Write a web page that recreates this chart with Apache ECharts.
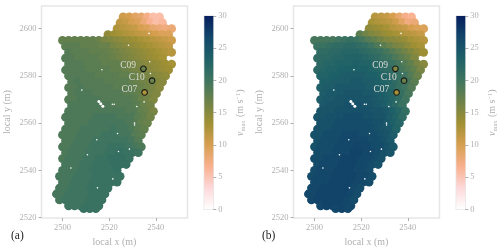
<!DOCTYPE html>
<html><head><meta charset="utf-8">
<style>html,body{margin:0;padding:0;background:#fff}#c{width:500px;height:252px;filter:blur(.4px)}</style>
<script src="https://cdn.jsdelivr.net/npm/echarts@6/dist/echarts.min.js"></script>
</head><body><div id="c"></div>
<script>
const rowY=[2605,2602.5,2600,2597.5,2595,2592.5,2590,2587.5,2585,2582.5,2580,2577.5,2575,2572.5,2570,2567.5,2565,2562.5,2560,2557.5,2555,2552.5,2550,2547.5,2545,2542.5,2540,2537.5,2535,2532.5,2530,2527.5,2525,2523.8];
const rowStartX=[2526,2524.7,2523.4,2519.5,2500,2501.3,2502.6,2501.3,2502.6,2501.3,2502.6,2503.9,2502.6,2503.9,2502.6,2503.9,2502.6,2501.3,2502.6,2501.3,2500,2501.3,2500,2501.3,2500,2501.3,2500,2498.7,2500,2498.7,2497.4,2498.7,2502.6,2509.1];
const pointStepX=2.6;
const valuesA=[
[10.5,10,9,8.5,7,5.5,5.5],
[11.5,11,10,9.5,8,6.5,5.5,6],
[12.5,12,11.5,11,10,9.5,8.5,8,7.5,8],
[14.5,13.5,13,12.5,12,11.5,11,10.5,10,9.5,9.5],
[17.5,17.5,17.5,17.5,17.5,17.5,17,16,15.5,15,14.5,14,13.5,13,12.5,12,11.5,11,10.5],
[18,18,18,17.5,17.5,17.5,17,17,16,15.5,15,14.5,14,13.5,13,12.5,12,11.5],
[18.5,18,18,18,17.5,17.5,17.5,17,16.5,16,15.5,15,14.5,14,13.5,13,12.5,12],
[18.5,18.5,18,18,18,18,17.5,17.5,17,16.5,16,15.5,15,14.5,14,13.5,13],
[18.5,18.5,18.5,18,18,18,17.5,17.5,17.5,17,16.5,16,15.5,15,14.5,14,13.5,13],
[18.5,18.5,18.5,18.5,18,18,18,18,17.5,17.5,17,16.5,16,15.5,15,14.5,14,13.5],
[18.5,18.5,18.5,18.5,18.5,18,18,18,18,17.5,17.5,17,16.5,16,15.5,15,14.5],
[18.5,19,18.5,18.5,18.5,18.5,18,18,18,18,17.5,17,16.5,16,15.5,15],
[18.5,18.5,19,18.5,18.5,18.5,18.5,18.5,18,18,18,17.5,17,16.5,16,15],
[18.5,19,19,19,18.5,18.5,18.5,18.5,18.5,18,18,17.5,16.5,16,15.5],
[18.5,18.5,19,19,19,19,18.5,18.5,18.5,18.5,18.5,18,17,16.5,15.5],
[19,19,19,19,19,19,19,18.5,18.5,18.5,18.5,18,17,16.5],
[19,19,19,19,19,19,19,19,19,19,18.5,18.5,17.5,17,16],
[19,19,19,19,19,19.5,19.5,19.5,19.5,19,19,19,18,17.5,16.5],
[19,19,19,19,19.5,19.5,19.5,19.5,19.5,19.5,19,18.5,17.5,17],
[19,19,19,19.5,19.5,19.5,19.5,19.5,20,19.5,19.5,19,18,17.5],
[19,19,19,19.5,19.5,19.5,19.5,20,20,20,19.5,19.5,18.5,18],
[19,19,19.5,19.5,19.5,20,20,20,20,20,20,19.5,18.5],
[19,19,19.5,19.5,19.5,20,20,20,20.5,20.5,20.5,20,19.5,19],
[19,19.5,19.5,19.5,20,20,20,20.5,20.5,21,20.5,20.5,20],
[19,19.5,19.5,19.5,20,20,20.5,20.5,21,21,21,20.5],
[19.5,19.5,19.5,20,20,20.5,20.5,20.5,21,21,21],
[19.5,19.5,19.5,20,20,20.5,20.5,20.5,20.5,21],
[19.5,19.5,19.5,20,20,20,20.5,20.5,20.5,20.5,20.5],
[19.5,19.5,20,20,20,20.5,20.5,20.5,20.5,20.5],
[19.5,19.5,20,20,20,20.5,20.5,20.5,20.5],
[19.5,19.5,20,20,20,20,20.5,20.5,20.5],
[19.5,20,20,20,20,20.5,20.5,20.5],
[20,20,20,20.5,20.5,20.5],
[20.5,20.5,20.5]];
const valuesB=[
[12,11.5,11,10,8.5,7,6.5],
[13,12.5,12,11.5,10.5,9,7.5,8],
[14.5,14,13.5,13,12,11.5,11,10,9.5,9.5],
[18,16.5,15.5,15,14,13.5,13,12.5,12,11.5,11],
[19.5,19.5,19.5,19.5,20,20.5,21,20.5,19.5,18.5,17.5,16.5,15.5,15,14.5,14,13,12.5,12],
[20.5,20.5,21,21.5,21.5,22,22,21.5,21,20,19,18,17,16,15.5,14.5,13.5,13],
[21.5,21.5,22,22,22.5,22.5,22.5,22,21.5,21,20.5,19.5,18.5,17.5,16.5,15.5,14.5,13.5],
[21.5,22,22,22.5,22.5,23,23,23,22.5,22,21.5,20.5,20,19,18,17,15.5],
[22,22.5,22.5,23,23,23,23.5,23,23,22.5,22,21.5,20.5,19.5,18.5,17.5,16,15],
[22,22.5,23,23,23.5,23.5,23.5,23.5,23.5,23,22.5,22,21.5,20.5,19.5,18.5,17.5,16],
[23,23,23.5,23.5,24,24,24,24,23.5,23.5,23,22.5,21.5,21,20,18.5,17],
[23.5,23.5,24,24,24,24.5,24.5,24,24,23.5,23,22.5,21.5,20.5,19.5,18],
[23.5,24,24,24.5,24.5,24.5,24.5,24.5,24,24,23.5,23,22,21,20,18.5],
[24,24.5,24.5,24.5,25,25,25,24.5,24.5,24,23.5,23,22,21,19.5],
[24,24.5,24.5,25,25,25,25,25,25,24.5,24,23.5,22.5,21.5,20],
[24.5,25,25,25,25.5,25.5,25.5,25,25,24.5,24,23,22,20.5],
[25,25,25,25.5,25.5,25.5,25.5,25.5,25.5,25,25,24.5,23.5,22.5,21],
[25,25,25.5,25.5,25.5,26,26,26,25.5,25.5,25,25,24,23,21.5],
[25.5,25.5,25.5,26,26,26,26,26,26,25.5,25.5,24.5,23.5,22.5],
[25.5,25.5,25.5,26,26,26,26,26,26,26,25.5,25,24.5,23],
[25.5,25.5,26,26,26,26.5,26.5,26.5,26,26,26,25.5,25,24],
[25.5,26,26,26,26.5,26.5,26.5,26.5,26.5,26,26,25.5,24.5],
[25.5,26,26,26,26.5,26.5,26.5,27,26.5,26.5,26,26,25.5,24.5],
[26,26,26,26.5,26.5,26.5,27,27,26.5,26.5,26,25.5,25],
[26,26,26.5,26.5,26.5,27,27,27,26.5,26.5,26,25.5],
[26,26.5,26.5,26.5,27,27,27,26.5,26.5,26,25.5],
[26,26.5,26.5,26.5,27,27,27,26.5,26.5,26],
[26,26.5,26.5,26.5,27,27,27,27,26.5,26.5,26],
[26.5,26.5,26.5,27,27,27,27,26.5,26.5,26],
[26.5,26.5,27,27,27,27,27,26.5,26],
[26.5,26.5,27,27,27,27,27,26.5,26],
[26.5,27,27,27,27,27,26.5,26],
[26.5,27,27,27,26.5,26.5],
[26.5,27,26.5]];
const siteNames=['C09','C10','C07'];
const siteX=[2534.7,2538.4,2535.2];
const siteY=[2583,2578,2573];
const siteValuesA=[17,17,12.5];
const siteValuesB=[15.5,17,13];
const gapLarge=[[2515.6,2569.2],[2516.4,2568.2],[2517.3,2567.2]];
const gapSmall=[[2537.1,2598],[2537.4,2586],[2537.7,2581],[2530.9,2560],[2530.9,2559.2],[2521.4,2568],[2522.2,2568],[2528.3,2593],[2524,2548],[2521.6,2536.4],[2515,2532.6],[2535,2569],[2531.9,2567],[2528.7,2549],[2510.7,2546.6],[2523.6,2555.6],[2503.6,2541],[2508.3,2574],[2516.9,2582.6],[2514.7,2553]];
const xTicks=[2500,2520,2540];
const yTicks=[2520,2540,2560,2580,2600];
const cbarTicks=[0,5,10,15,20,25,30];
const cmapColors=['#ffffff','#fdd8da','#f9b08e','#d69f50','#a19034','#6e8248','#3f7560','#1f6168','#13476a','#061f5e'];

const FONT='"Liberation Serif"',GREY='#b0b0b0',FRAME='#e6e6e6';
function field(vals){const out=[];vals.forEach((r,i)=>r.forEach((v,j)=>out.push([rowStartX[i]+j*pointStepX,rowY[i],v])));return out;}
function axisCommon(ticks){return {
  axisLine:{show:false},splitLine:{show:false},
  axisTick:{show:true,length:3,lineStyle:{color:'#999',width:.8},customValues:ticks},
  axisLabel:{color:GREY,fontFamily:FONT,fontSize:8.5,margin:5,customValues:ticks,formatter:v=>String(v)},
  nameLocation:'middle',nameTextStyle:{color:GREY,fontFamily:FONT,fontSize:10}};}
const panels=[{left:41.5,cb:204.3,vals:valuesA,site:siteValuesA},{left:293.5,cb:456.3,vals:valuesB,site:siteValuesB}];
const grid=[],xAxis=[],yAxis=[],series=[],fieldIdx=[];
panels.forEach((p,k)=>{
  grid.push({left:p.left,top:6,width:146,height:212.5,show:true,borderColor:FRAME,borderWidth:1.5,backgroundColor:'#fff'});
  xAxis.push(Object.assign(axisCommon(xTicks),{gridIndex:2*k,type:'value',min:2491,max:2553.6,name:'local x (m)',nameGap:16}));
  yAxis.push(Object.assign(axisCommon(yTicks),{gridIndex:2*k,type:'value',min:2519.8,max:2609.6,name:'local y (m)',nameGap:29}));
  grid.push({left:p.cb,top:16,width:9,height:193.3,show:true,borderColor:FRAME,borderWidth:1.5});
  xAxis.push({gridIndex:2*k+1,type:'category',data:[''],show:false});
  yAxis.push(Object.assign(axisCommon(cbarTicks),{gridIndex:2*k+1,type:'value',min:0,max:30,position:'right',
    nameRotate:90,nameGap:21,
    name:'{v|v}{s|max} {t|(m s}{u|−1}{t|)}',
    nameTextStyle:{rich:{
      v:{color:GREY,fontFamily:FONT,fontStyle:'italic',fontSize:10},
      s:{color:GREY,fontFamily:FONT,fontSize:6.5,verticalAlign:'bottom',lineHeight:8},
      t:{color:GREY,fontFamily:FONT,fontSize:10},
      u:{color:GREY,fontFamily:FONT,fontSize:6.5,verticalAlign:'top',lineHeight:8}}}}));
  fieldIdx.push(series.length);
  series.push({type:'scatter',xAxisIndex:2*k,yAxisIndex:2*k,data:field(p.vals),symbolSize:8.8,silent:true,z:2,itemStyle:{opacity:1},progressive:0});
  series.push({type:'scatter',xAxisIndex:2*k,yAxisIndex:2*k,data:gapLarge,symbolSize:3,silent:true,z:3,itemStyle:{color:'#fff',opacity:1}});
  series.push({type:'scatter',xAxisIndex:2*k,yAxisIndex:2*k,data:gapSmall,symbolSize:1.6,silent:true,z:3,itemStyle:{color:'#fff',opacity:1}});
  fieldIdx.push(series.length);
  series.push({type:'scatter',xAxisIndex:2*k,yAxisIndex:2*k,silent:true,z:4,symbolSize:5.6,
    itemStyle:{borderColor:'#1a1a1a',borderWidth:1.1,opacity:1},
    data:siteNames.map((n,i)=>({name:n,value:[siteX[i],siteY[i],p.site[i]]})),
    label:{show:true,position:'left',distance:4,offset:[0,-3],formatter:'{b}',color:'#dcdcd4',fontFamily:FONT,fontSize:9.5}});
  series.push({type:'bar',xAxisIndex:2*k+1,yAxisIndex:2*k+1,data:[30],barWidth:'100%',silent:true,
    itemStyle:{color:{type:'linear',x:0,y:1,x2:0,y2:0,colorStops:cmapColors.map((c,i)=>({offset:i/(cmapColors.length-1),color:c}))}}});
});
const chart=echarts.init(document.getElementById('c'),null,{renderer:'canvas'});
chart.setOption({animation:false,backgroundColor:'#fff',grid,xAxis,yAxis,series,
  visualMap:[{show:false,type:'continuous',min:0,max:30,dimension:2,seriesIndex:fieldIdx,inRange:{color:cmapColors}}],
  graphic:[
    {type:'text',left:11,top:230,style:{text:'(a)',fill:'#222',font:'11.5px "Liberation Serif"'}},
    {type:'text',left:262,top:230,style:{text:'(b)',fill:'#222',font:'11.5px "Liberation Serif"'}}
  ]});
</script></body></html>
